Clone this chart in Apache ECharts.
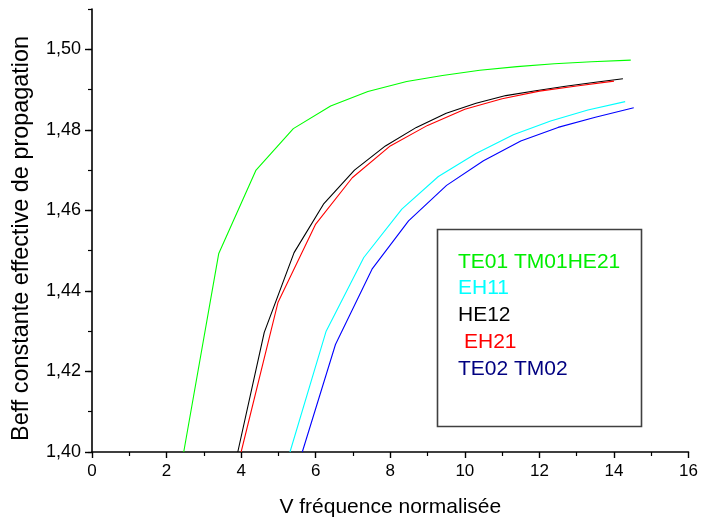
<!DOCTYPE html>
<html>
<head>
<meta charset="utf-8">
<script src="https://cdn.jsdelivr.net/npm/echarts@6/dist/echarts.min.js"></script>
<style>
html,body{margin:0;padding:0;background:#fff;}
#chart{width:701px;height:523px;}
</style>
</head>
<body>
<div id="chart"></div>
<script>
// ---- data ----
const xTicks = [0, 2, 4, 6, 8, 10, 12, 14, 16];
const yTicks = [1.40, 1.42, 1.44, 1.46, 1.48, 1.50];

const seriesNames = ['TE01 TM01HE21', 'EH11', 'HE12', 'EH21', 'TE02 TM02'];

const greenV = [2.46, 3.40, 4.40, 5.40, 6.40, 7.40, 8.44, 9.40, 10.40, 11.40, 12.40, 13.40, 14.45];
const greenB = [1.400, 1.4493, 1.4700, 1.4803, 1.4859, 1.4895, 1.4920, 1.4935, 1.4948, 1.4957, 1.4964, 1.4969, 1.4973];

const cyanV = [5.31, 6.28, 7.29, 8.31, 9.29, 10.30, 11.30, 12.30, 13.30, 14.30];
const cyanB = [1.400, 1.4300, 1.4483, 1.4603, 1.4684, 1.4741, 1.4788, 1.4822, 1.4849, 1.4870];

const blackV = [3.91, 4.62, 5.42, 6.22, 7.04, 7.87, 8.70, 9.50, 10.30, 11.10, 11.90, 12.70, 13.50, 14.24];
const blackB = [1.400, 1.4297, 1.4495, 1.4617, 1.4700, 1.4760, 1.4806, 1.4841, 1.4866, 1.4885, 1.4897, 1.4908, 1.4918, 1.4927];

const redV = [4.00, 4.99, 6.00, 6.98, 8.00, 9.00, 10.00, 11.00, 12.00, 13.00, 14.00];
const redB = [1.400, 1.4372, 1.4566, 1.4681, 1.4760, 1.4811, 1.4851, 1.4877, 1.4896, 1.4909, 1.4921];

const blueV = [5.64, 6.53, 7.51, 8.49, 9.51, 10.50, 11.50, 12.50, 13.50, 14.53];
const blueB = [1.400, 1.4267, 1.4454, 1.4574, 1.4662, 1.4723, 1.4772, 1.4806, 1.4831, 1.4855];

// ---- chart ----
const pairs = (xs, ys) => xs.map((x, i) => [x, ys[i]]);
const lineColors = ['#00ff00', '#00ffff', '#000000', '#ff0000', '#0000ff'];
const textColors = ['#00ee00', '#00ffff', '#000000', '#ff0000', '#000080'];
const allData = [pairs(greenV, greenB), pairs(cyanV, cyanB), pairs(blackV, blackB), pairs(redV, redB), pairs(blueV, blueB)];

const FONT = '"Liberation Sans", Arial, sans-serif';

const chart = echarts.init(document.getElementById('chart'), null, {renderer: 'canvas'});

const legendX = 458, legendY0 = 263, legendStep = 26.7;
const legendTexts = seriesNames.map((n, i) => ({
  type: 'text',
  left: legendX + (i === 3 ? 6 : 0),
  top: legendY0 + i * legendStep - 11.5,
  style: {text: n, fill: textColors[i], font: '21px ' + FONT}
}));

chart.setOption({
  animation: false,
  backgroundColor: '#ffffff',
  grid: {left: 92, right: 9, top: 9, bottom: 70, containLabel: false},
  xAxis: {
    type: 'value',
    min: xTicks[0], max: xTicks[xTicks.length - 1], interval: 2,
    name: 'V fréquence normalisée',
    nameLocation: 'middle', nameGap: 45,
    nameTextStyle: {fontFamily: FONT, fontSize: 21, color: '#000'},
    axisLine: {show: true, lineStyle: {color: '#000', width: 1.6}},
    axisTick: {show: true, inside: false, length: 6, lineStyle: {color: '#000', width: 1.4}},
    minorTick: {show: true, splitNumber: 2, length: 4, lineStyle: {color: '#000', width: 1.2}},
    splitLine: {show: false},
    minorSplitLine: {show: false},
    axisLabel: {fontFamily: FONT, fontSize: 17, color: '#000', margin: 11,
      formatter: v => String(v)}
  },
  yAxis: [{
    type: 'value',
    min: yTicks[0], max: 1.51, interval: 0.02,
    name: 'Beff constante effective de propagation',
    nameLocation: 'middle', nameGap: 59, nameRotate: 90,
    nameTextStyle: {fontFamily: FONT, fontSize: 23.4, color: '#000', padding: [0, 16, 0, 0]},
    axisLine: {show: true, lineStyle: {color: '#000', width: 1.6}},
    axisTick: {show: true, inside: false, length: 7, lineStyle: {color: '#000', width: 1.4}},
    splitLine: {show: false},
    axisLabel: {fontFamily: FONT, fontSize: 18, color: '#000', margin: 11, showMaxLabel: false,
      formatter: v => v.toFixed(2).replace('.', ',')}
  }, {
    type: 'value',
    position: 'left',
    min: yTicks[0], max: 1.51, interval: 0.01,
    axisLine: {show: false},
    axisTick: {show: true, inside: false, length: 4, lineStyle: {color: '#000', width: 1.2}},
    splitLine: {show: false},
    axisLabel: {show: false}
  }],
  series: allData.map((d, i) => ({
    name: seriesNames[i],
    type: 'line',
    yAxisIndex: 0,
    data: d,
    showSymbol: false,
    smooth: false,
    clip: true,
    lineStyle: {color: lineColors[i], width: 1.1},
    itemStyle: {color: lineColors[i]}
  })),
  graphic: [{
    type: 'rect',
    shape: {x: 437.5, y: 229.5, width: 204, height: 197},
    style: {fill: 'rgba(0,0,0,0)', stroke: '#404040', lineWidth: 1.6}
  }].concat(legendTexts)
});
</script>
</body>
</html>
